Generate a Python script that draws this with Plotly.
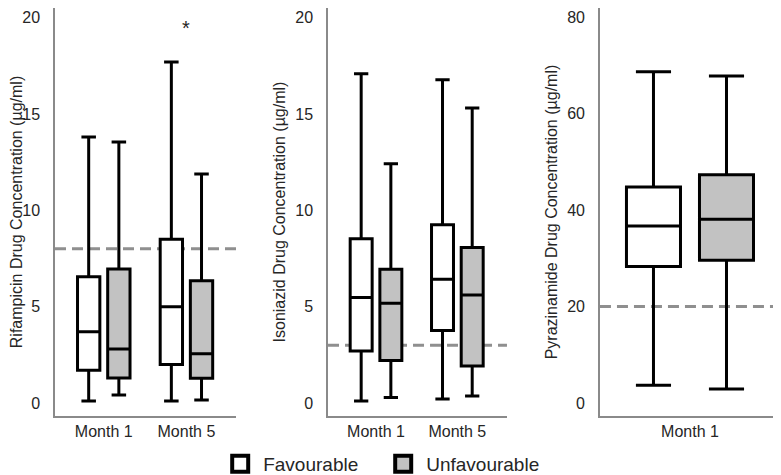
import plotly.graph_objects as go
from plotly.subplots import make_subplots

# categories
months_rif = ["Month 1", "Month 5"]
months_inh = ["Month 1", "Month 5"]
months_pza = ["Month 1"]
groups = ["Favourable", "Unfavourable"]

# Rifampicin (µg/ml) box statistics
rif_fav_lower = [0.1, 0.1]
rif_fav_q1 = [1.7, 2.0]
rif_fav_median = [3.7, 5.0]
rif_fav_q3 = [6.55, 8.5]
rif_fav_upper = [13.8, 17.7]
rif_unfav_lower = [0.42, 0.16]
rif_unfav_q1 = [1.3, 1.28]
rif_unfav_median = [2.8, 2.55]
rif_unfav_q3 = [6.95, 6.35]
rif_unfav_upper = [13.55, 11.88]
rif_outlier_month = "Month 5"
rif_outlier_value = 19.5

# Isoniazid (µg/ml) box statistics
inh_fav_lower = [0.1, 0.21]
inh_fav_q1 = [2.7, 3.76]
inh_fav_median = [5.47, 6.42]
inh_fav_q3 = [8.52, 9.25]
inh_fav_upper = [17.09, 16.78]
inh_unfav_lower = [0.28, 0.36]
inh_unfav_q1 = [2.2, 1.92]
inh_unfav_median = [5.18, 5.61]
inh_unfav_q3 = [6.94, 8.07]
inh_unfav_upper = [12.42, 15.31]

# Pyrazinamide (µg/ml) box statistics
pza_fav_lower = [3.7]
pza_fav_q1 = [28.3]
pza_fav_median = [36.7]
pza_fav_q3 = [44.8]
pza_fav_upper = [68.7]
pza_unfav_lower = [2.9]
pza_unfav_q1 = [29.6]
pza_unfav_median = [38.1]
pza_unfav_q3 = [47.3]
pza_unfav_upper = [67.8]

# target concentration thresholds
thresholds = [8, 3, 20]

titles = [
    "Rifampicin Drug Concentration (µg/ml)",
    "Isoniazid Drug Concentration (µg/ml)",
    "Pyrazinamide Drug Concentration (µg/ml)",
]

FILLS = {"Favourable": "white", "Unfavourable": "#c2c2c2"}
TEXT = "#262626"
AXIS = "#8a8a8a"

fig = make_subplots(rows=1, cols=3)


def add_boxes(col, x, stats_fav, stats_unfav):
    for name, st in zip(groups, [stats_fav, stats_unfav]):
        low, q1, med, q3, up = st
        fig.add_trace(go.Box(
            x=x, lowerfence=low, q1=q1, median=med, q3=q3, upperfence=up,
            name=name, offsetgroup=name, showlegend=False,
            fillcolor=FILLS[name], line=dict(color="black", width=3),
            whiskerwidth=0.65, hoverinfo="skip",
        ), row=1, col=col)


add_boxes(1, months_rif,
          [rif_fav_lower, rif_fav_q1, rif_fav_median, rif_fav_q3, rif_fav_upper],
          [rif_unfav_lower, rif_unfav_q1, rif_unfav_median, rif_unfav_q3, rif_unfav_upper])
add_boxes(2, months_inh,
          [inh_fav_lower, inh_fav_q1, inh_fav_median, inh_fav_q3, inh_fav_upper],
          [inh_unfav_lower, inh_unfav_q1, inh_unfav_median, inh_unfav_q3, inh_unfav_upper])
add_boxes(3, months_pza,
          [pza_fav_lower, pza_fav_q1, pza_fav_median, pza_fav_q3, pza_fav_upper],
          [pza_unfav_lower, pza_unfav_q1, pza_unfav_median, pza_unfav_q3, pza_unfav_upper])

# legend only entries (bigger squares than the box icons)
for name in groups:
    fig.add_trace(go.Scatter(
        x=[None], y=[None], mode="markers", name=name,
        marker=dict(symbol="square", size=16, color=FILLS[name],
                    line=dict(color="black", width=4)),
    ), row=1, col=1)

# extreme value marker
fig.add_annotation(x=rif_outlier_month, y=rif_outlier_value, xref="x", yref="y",
                   text="*", showarrow=False, yshift=-1,
                   font=dict(size=20, color=TEXT))

for i, thr in enumerate(thresholds, start=1):
    sfx = "" if i == 1 else str(i)
    fig.add_shape(type="line", xref=f"x{sfx} domain", yref=f"y{sfx}",
                  x0=0, x1=1, y0=thr, y1=thr, layer="below",
                  line=dict(color="#8f8f8f", width=3, dash="11px,6px"))

# the page body adds an 8px offset, so the figure is 8px smaller than the window
domains = [[0.0608, 0.295], [0.414, 0.6455], [0.7658, 1.0]]
xranges = [[-0.59, 1.6], [-0.59, 1.61], [-0.45, 0.455]]
yranges = [[-0.675, 20.5], [-0.675, 20.5], [-2.7, 81.9]]
dticks = [5, 5, 20]

for i in range(3):
    fig.update_xaxes(domain=domains[i], range=xranges[i], showline=True,
                     linecolor=AXIS, linewidth=1.5, showgrid=False, zeroline=False,
                     ticks="", tickfont=dict(size=16, color=TEXT), row=1, col=i + 1)
    fig.update_yaxes(range=yranges[i], dtick=dticks[i], tick0=0, showline=True,
                     linecolor=AXIS, linewidth=1.5, showgrid=False, zeroline=False,
                     ticks="", ticklabelstandoff=10,
                     tickfont=dict(size=16, color=TEXT),
                     title=dict(text=titles[i], font=dict(size=16, color=TEXT), standoff=6),
                     row=1, col=i + 1)

fig.update_layout(
    width=773, height=467,
    margin=dict(l=0, r=0, t=0, b=59, autoexpand=False),
    plot_bgcolor="white", paper_bgcolor="white",
    boxmode="group", boxgap=0.27, boxgroupgap=0.26,
    font=dict(family="Liberation Sans, Arial, sans-serif", size=16, color=TEXT),
    legend=dict(orientation="h", x=0.4815, xanchor="center", y=-0.1176, yanchor="middle",
                entrywidth=112, entrywidthmode="pixels", itemwidth=36,
                font=dict(size=19, color=TEXT)),
)

fig.write_html("out.html")
